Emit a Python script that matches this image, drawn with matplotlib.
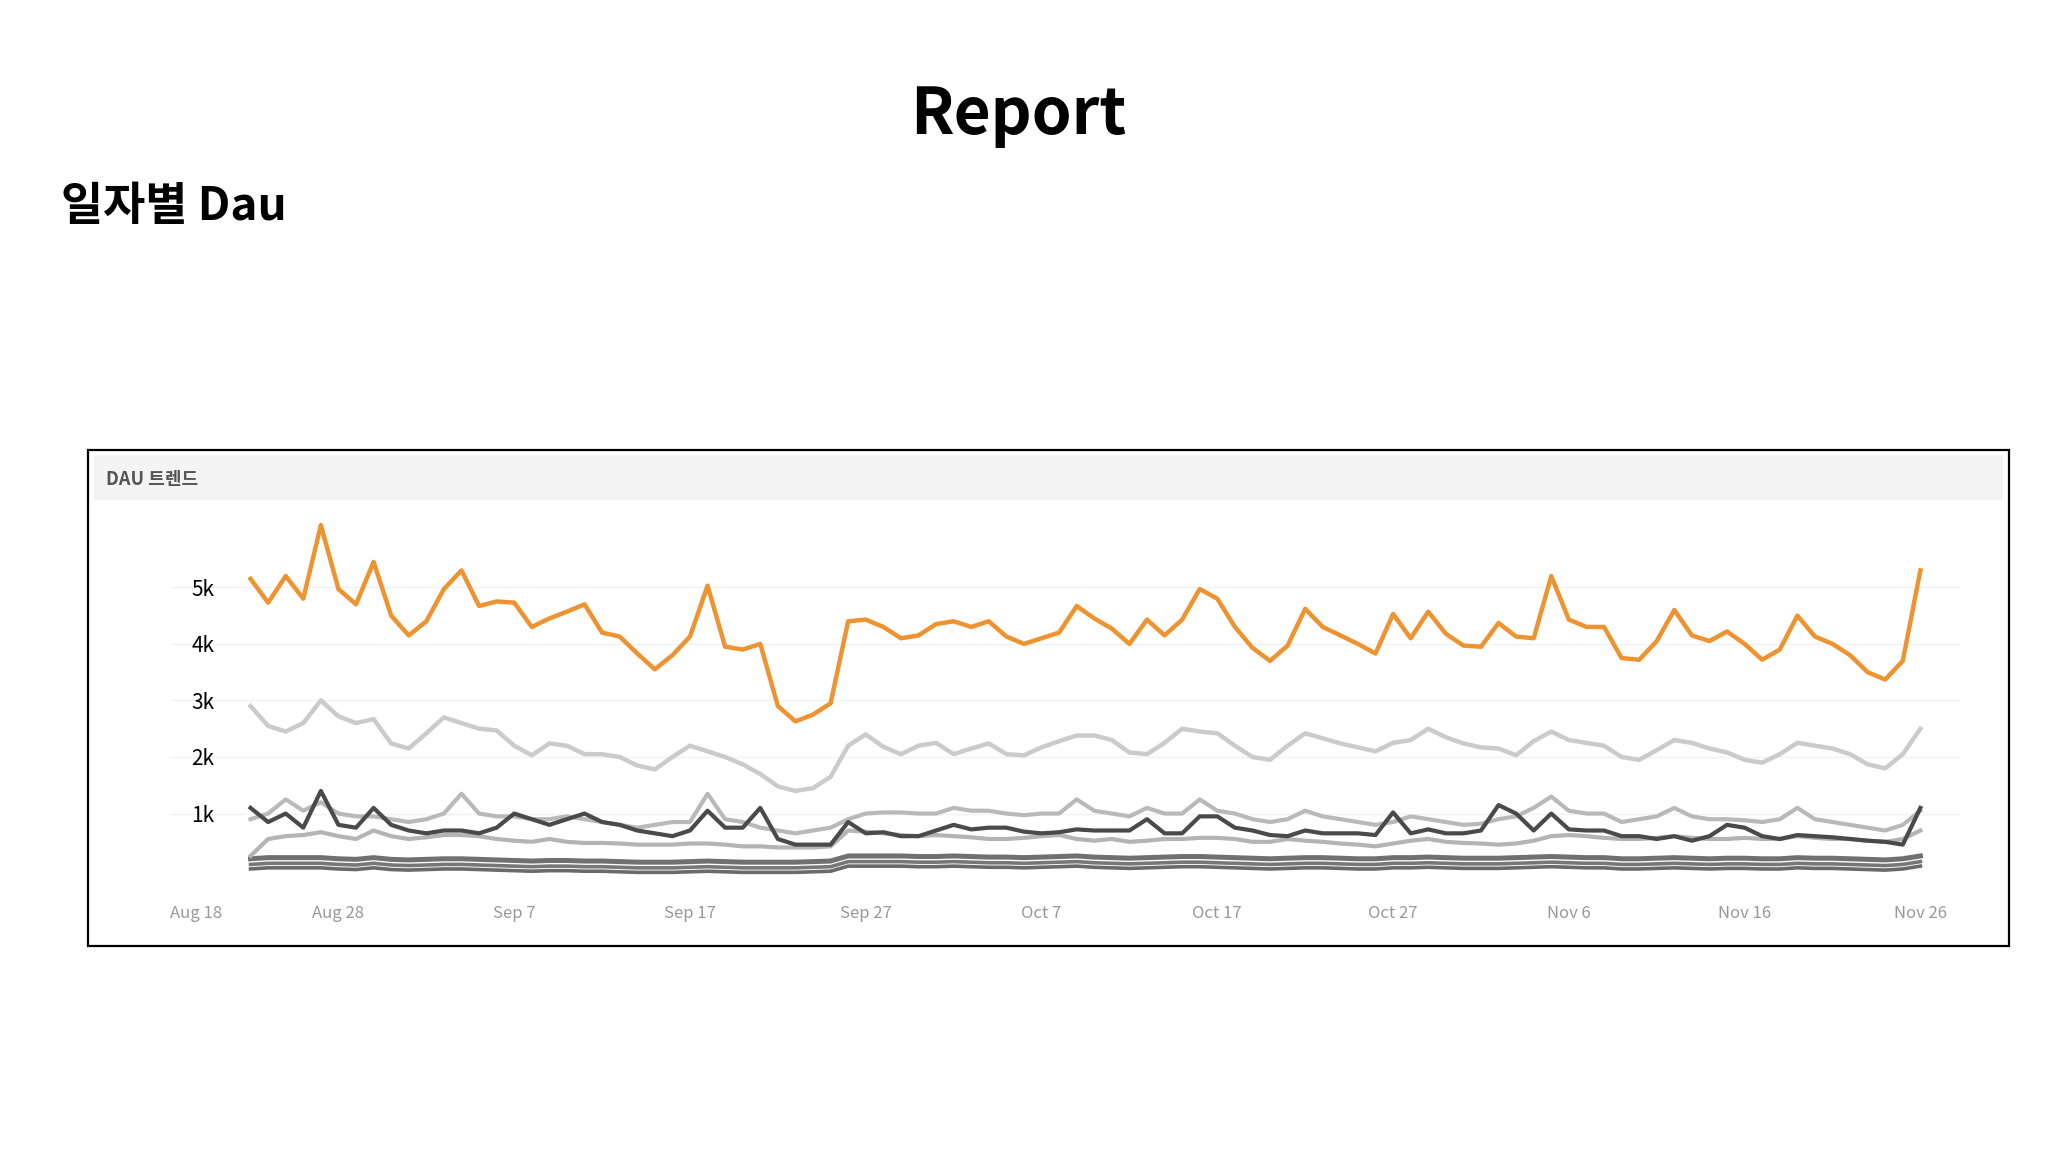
import numpy as np
import pandas as pd
import matplotlib
matplotlib.use("Agg")
import matplotlib.pyplot as plt
from matplotlib.patches import Rectangle

plt.rcParams['font.family'] = ['Noto Sans CJK KR', 'DejaVu Sans']

# daily values in thousands, Aug 23 .. Nov 26
dates = pd.date_range("2023-08-23", "2023-11-26", freq="D")

orange = [5.15, 4.73, 5.2, 4.8, 6.1, 4.97, 4.7, 5.45, 4.5, 4.15,
          4.4, 4.97, 5.3, 4.67, 4.75, 4.73, 4.3, 4.45, 4.57, 4.7,
          4.2, 4.13, 3.83, 3.55, 3.8, 4.13, 5.03, 3.95, 3.9, 4.0,
          2.9, 2.63, 2.75, 2.95, 4.4, 4.43, 4.3, 4.1, 4.15, 4.35,
          4.4, 4.3, 4.4, 4.13, 4.0, 4.1, 4.2, 4.67, 4.45, 4.27,
          4.0, 4.43, 4.15, 4.43, 4.97, 4.8, 4.3, 3.93, 3.7, 3.97,
          4.62, 4.3, 4.15, 4.0, 3.83, 4.53, 4.1, 4.57, 4.18, 3.97,
          3.95, 4.37, 4.13, 4.1, 5.2, 4.43, 4.3, 4.3, 3.75, 3.72,
          4.05, 4.6, 4.15, 4.05, 4.22, 4.0, 3.72, 3.9, 4.5, 4.13,
          4.0, 3.8, 3.5, 3.37, 3.7, 5.3]

gray_a = [2.9, 2.55, 2.45, 2.6, 3.0, 2.72, 2.6, 2.67, 2.24, 2.15,
          2.42, 2.7, 2.6, 2.5, 2.47, 2.2, 2.03, 2.24, 2.2, 2.05,
          2.05, 2.0, 1.85, 1.78, 2.0, 2.2, 2.1, 2.0, 1.87, 1.7,
          1.48, 1.4, 1.45, 1.65, 2.2, 2.4, 2.18, 2.05, 2.2, 2.25,
          2.05, 2.15, 2.24, 2.05, 2.03, 2.17, 2.28, 2.38, 2.38, 2.3,
          2.08, 2.05, 2.25, 2.5, 2.45, 2.42, 2.2, 2.0, 1.95, 2.2,
          2.42, 2.33, 2.24, 2.17, 2.1, 2.25, 2.3, 2.5, 2.35, 2.24,
          2.17, 2.15, 2.03, 2.28, 2.45, 2.3, 2.25, 2.2, 2.0, 1.95,
          2.12, 2.3, 2.25, 2.15, 2.08, 1.95, 1.9, 2.05, 2.25, 2.2,
          2.15, 2.05, 1.87, 1.8, 2.05, 2.5]

gray_b = [0.9, 1.0, 1.25, 1.05, 1.2, 1.0, 0.95, 0.95, 0.9, 0.85,
          0.9, 1.0, 1.35, 1.0, 0.95, 0.95, 0.9, 0.9, 0.95, 0.9,
          0.85, 0.8, 0.75, 0.8, 0.85, 0.85, 1.35, 0.9, 0.85, 0.75,
          0.7, 0.65, 0.7, 0.75, 0.9, 1.0, 1.02, 1.02, 1.0, 1.0,
          1.1, 1.05, 1.05, 1.0, 0.97, 1.0, 1.0, 1.25, 1.05, 1.0,
          0.95, 1.1, 1.0, 1.0, 1.25, 1.05, 1.0, 0.9, 0.85, 0.9,
          1.05, 0.95, 0.9, 0.85, 0.8, 0.85, 0.95, 0.9, 0.85, 0.8,
          0.82, 0.9, 0.95, 1.1, 1.3, 1.05, 1.0, 1.0, 0.85, 0.9,
          0.95, 1.1, 0.95, 0.9, 0.9, 0.88, 0.85, 0.9, 1.1, 0.9,
          0.85, 0.8, 0.75, 0.7, 0.8, 1.05]

dark = [1.1, 0.85, 1.0, 0.75, 1.4, 0.8, 0.75, 1.1, 0.8, 0.7,
        0.65, 0.7, 0.7, 0.65, 0.75, 1.0, 0.9, 0.8, 0.9, 1.0,
        0.85, 0.8, 0.7, 0.65, 0.6, 0.7, 1.05, 0.75, 0.75, 1.1,
        0.55, 0.45, 0.45, 0.45, 0.85, 0.65, 0.67, 0.6, 0.6, 0.7,
        0.8, 0.72, 0.75, 0.75, 0.68, 0.65, 0.67, 0.72, 0.7, 0.7,
        0.7, 0.9, 0.65, 0.65, 0.95, 0.95, 0.75, 0.7, 0.62, 0.6,
        0.7, 0.65, 0.65, 0.65, 0.62, 1.02, 0.65, 0.72, 0.65, 0.65,
        0.7, 1.15, 1.0, 0.7, 1.0, 0.72, 0.7, 0.7, 0.6, 0.6,
        0.55, 0.6, 0.52, 0.6, 0.8, 0.75, 0.6, 0.55, 0.62, 0.6,
        0.58, 0.55, 0.52, 0.5, 0.45, 1.1]

gray_c = [0.25, 0.55, 0.6, 0.62, 0.67, 0.6, 0.55, 0.7, 0.6, 0.55,
          0.58, 0.62, 0.62, 0.6, 0.55, 0.52, 0.5, 0.55, 0.5, 0.48,
          0.48, 0.47, 0.45, 0.45, 0.45, 0.47, 0.47, 0.45, 0.42, 0.42,
          0.4, 0.4, 0.4, 0.42, 0.7, 0.68, 0.65, 0.62, 0.6, 0.62,
          0.6, 0.58, 0.55, 0.55, 0.57, 0.6, 0.62, 0.55, 0.52, 0.55,
          0.5, 0.52, 0.55, 0.55, 0.57, 0.57, 0.55, 0.5, 0.5, 0.55,
          0.52, 0.5, 0.47, 0.45, 0.42, 0.47, 0.52, 0.55, 0.5, 0.48,
          0.47, 0.45, 0.47, 0.52, 0.6, 0.62, 0.6, 0.57, 0.55, 0.55,
          0.57, 0.6, 0.57, 0.55, 0.55, 0.57, 0.55, 0.55, 0.6, 0.57,
          0.55, 0.55, 0.52, 0.5, 0.55, 0.7]

base_1 = [0.2, 0.22, 0.22, 0.22, 0.22, 0.2, 0.19, 0.22, 0.19, 0.18,
          0.19, 0.2, 0.2, 0.19, 0.18, 0.17, 0.16, 0.17, 0.17, 0.16,
          0.16, 0.15, 0.14, 0.14, 0.14, 0.15, 0.16, 0.15, 0.14, 0.14,
          0.14, 0.14, 0.15, 0.16, 0.25, 0.25, 0.25, 0.25, 0.24, 0.24,
          0.25, 0.24, 0.23, 0.23, 0.22, 0.23, 0.24, 0.25, 0.23, 0.22,
          0.21, 0.22, 0.23, 0.24, 0.24, 0.23, 0.22, 0.21, 0.2, 0.21,
          0.22, 0.22, 0.21, 0.2, 0.2, 0.22, 0.22, 0.23, 0.22, 0.21,
          0.21, 0.21, 0.22, 0.23, 0.24, 0.23, 0.22, 0.22, 0.2, 0.2,
          0.21, 0.22, 0.21, 0.2, 0.21, 0.21, 0.2, 0.2, 0.22, 0.21,
          0.21, 0.2, 0.19, 0.18, 0.2, 0.25]

base_2 = [v - 0.1 for v in base_1]
base_3 = [v - 0.18 for v in base_1]

series = [
    (base_3, "#6a6a6a", 2.6),
    (base_2, "#777777", 2.6),
    (base_1, "#707070", 3.6),
    (gray_c, "#b4b4b4", 3.0),
    (gray_b, "#b9b9b9", 3.0),
    (dark, "#4a4a4a", 3.0),
    (gray_a, "#cbcbcb", 3.2),
    (orange, "#ef9230", 3.2),
]

tick_dates = pd.to_datetime(["2023-08-28", "2023-09-07", "2023-09-17", "2023-09-27",
                             "2023-10-07", "2023-10-17", "2023-10-27", "2023-11-06",
                             "2023-11-16", "2023-11-26"])

fig = plt.figure(figsize=(20.48, 11.52), dpi=100)

fig.text(0.497, 0.90, "Report", ha="center", va="center", fontsize=46, fontweight="bold")
fig.text(0.03, 0.82, "일자별 Dau", ha="left", va="center", fontsize=33, fontweight="bold")

# framed chart panel
fig.patches.append(Rectangle((0.043, 0.179), 0.938, 0.43, transform=fig.transFigure,
                             fill=False, edgecolor="black", linewidth=1.6, zorder=5))
fig.patches.append(Rectangle((0.046, 0.566), 0.932, 0.039, transform=fig.transFigure,
                             facecolor="#f4f4f4", edgecolor="none", zorder=1))
fig.text(0.052, 0.584, "DAU 트렌드", ha="left", va="center", fontsize=13,
         fontweight="bold", color="#555555")

ax = fig.add_axes([0.083, 0.229, 0.874, 0.323])
for vals, col, lw in series:
    ax.plot(dates, vals, color=col, linewidth=lw, solid_joinstyle="round")

ax.set_xlim(pd.Timestamp("2023-08-18 10:00"), pd.Timestamp("2023-11-28 06:00"))
ax.set_ylim(-0.32, 6.26)
ax.set_yticks([1, 2, 3, 4, 5])
ax.set_yticklabels(["1k", "2k", "3k", "4k", "5k"])
ax.tick_params(axis="y", length=0, pad=-32, labelsize=15, labelcolor="black")
ax.set_xticks(tick_dates)
ax.set_xticklabels([d.strftime("%b ") + str(d.day) for d in tick_dates])
ax.tick_params(axis="x", length=0, pad=12, labelsize=12, labelcolor="#999999")
# first label sits clipped at the left edge in the original
ax.annotate("Aug 18", xy=(0.0, 0.0), xycoords="axes fraction", xytext=(0, -12),
            textcoords="offset points", ha="left", va="top", fontsize=12, color="#999999")
ax.grid(axis="y", color="#f2f2f2", linewidth=1)
for s in ax.spines.values():
    s.set_visible(False)
ax.set_facecolor("none")

fig.savefig("out.png", dpi=100)
